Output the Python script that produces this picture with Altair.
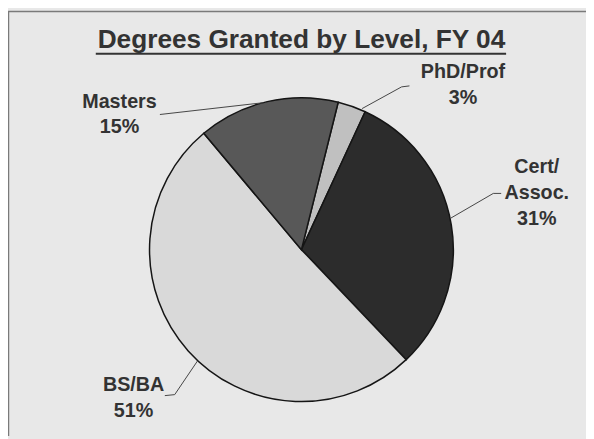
import math
import altair as alt
import pandas as pd

# ---- data ----
categories = ["PhD/Prof", "Cert/Assoc.", "BS/BA", "Masters"]
label_lines = ["PhD/Prof", "Cert/\nAssoc.", "BS/BA", "Masters"]
percents = [3, 31, 51, 15]
fills = ["#c0c0c0", "#2c2c2c", "#d9d9d9", "#585858"]
TITLE = "Degrees Granted by Level, FY 04"

df = pd.DataFrame({
    "category": categories,
    "label": label_lines,
    "pct": percents,
    "order": list(range(len(categories))),
})
df["text"] = df["label"] + "\n" + df["pct"].astype(str) + "%"

W, H = 586, 431
CX, CY, R = 297.5, 242, 154
START = math.radians(14)
FONT = "Liberation Sans"
INK = "#333333"
theta_scale = alt.Scale(domain=[0, 100], range=[START, START + 2 * math.pi])

base = alt.Chart(df)

pie = base.mark_arc(radius=R, stroke="#151515", strokeWidth=1.5).encode(
    theta=alt.Theta("pct:Q", stack=True, scale=theta_scale),
    order=alt.Order("order:Q"),
    color=alt.Color("category:N", scale=alt.Scale(domain=categories, range=fills), legend=None),
    x=alt.value(CX),
    y=alt.value(CY),
)

mids = base.transform_window(
    cum="sum(pct)", sort=[alt.SortField("order")], frame=[None, 0]
).transform_calculate(mid="datum.cum - datum.pct / 2")

label_offsets = {
    "PhD/Prof": (104.0, -10.0),
    "Cert/Assoc.": (61.0, -54.0),
    "BS/BA": (-36.0, 17.5),
    "Masters": (-144.0, 25.4),
}
labels = []
for cat, (ddx, ddy) in label_offsets.items():
    labels.append(
        mids.transform_filter(alt.datum.category == cat)
        .mark_text(radius=180, dx=ddx, dy=ddy, font=FONT, fontSize=20, fontWeight="bold",
                   color=INK, align="center", baseline="middle", lineBreak="\n", lineHeight=26)
        .encode(
            theta=alt.Theta("mid:Q", stack=False, scale=theta_scale),
            text="text:N",
            x=alt.value(CX),
            y=alt.value(CY),
        )
    )

one = alt.Chart(pd.DataFrame({"k": [0]}))


def seg(x1, y1, x2, y2, color="#444444", w=1.0):
    return one.mark_rule(color=color, strokeWidth=w).encode(
        x=alt.value(x1), y=alt.value(y1), x2=alt.value(x2), y2=alt.value(y2)
    )


leaders = [
    seg(359, 99, 399, 77), seg(399, 77, 407, 76),      # PhD/Prof
    seg(154, 105, 259, 93),                            # Masters
    seg(449, 210, 492, 185), seg(492, 185, 500, 185),  # Cert/Assoc.
    seg(159, 390, 169, 389), seg(169, 389, 192, 355),  # BS/BA
]

title = alt.Chart(pd.DataFrame({"t": [TITLE]})).mark_text(
    font=FONT, fontSize=26.6, fontWeight="bold", color=INK, align="center", baseline="alphabetic"
).encode(text="t:N", x=alt.value(297.5), y=alt.value(38))

underline = seg(89, 43.5, 505, 43.5, color=INK, w=2)
frame = [seg(0, 0.5, W, 0.5, color="#7a7a7a", w=1.5), seg(0.5, 0, 0.5, H, color="#7a7a7a", w=1.5)]

chart = alt.layer(pie, *labels, *leaders, title, underline, *frame).properties(
    width=W, height=H, autosize="none", padding=0, background="#e8e8e8"
).configure_view(strokeWidth=0)

chart.save("out.html", embed_options={"renderer": "svg", "actions": False})
